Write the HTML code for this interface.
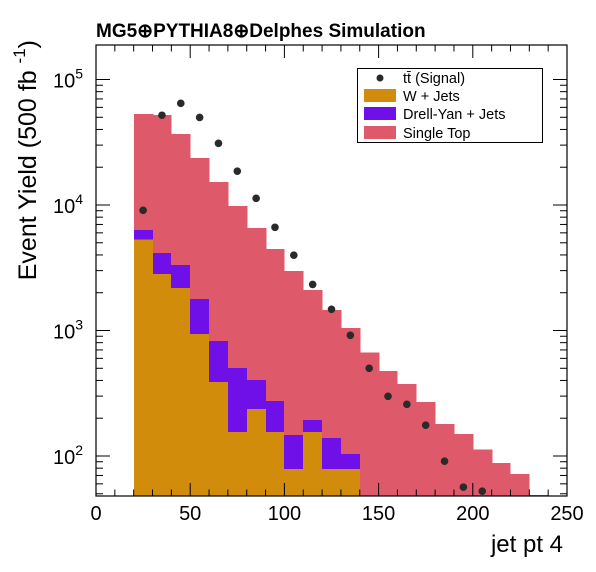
<!DOCTYPE html>
<html><head><meta charset="utf-8"><style>
body{margin:0;background:#fff}
svg{display:block;font-family:"Liberation Sans",sans-serif}
</style></head><body>
<svg id="c" width="596" height="572" viewBox="0 0 596 572"></svg>
<script>
const binLow = [20,30,40,50,60,70,80,90,100,110,120,130,140,150,160,170,180,190,200,210,220,230];
const wjets = [5330,2820,2180,938,389,155,237,155,79,155,79,79,0,0,0,0,0,0,0,0,0,0];
const dyjets = [980,1330,1150,842,436,347,166,119,68,39,60,25,0,0,0,0,0,0,0,0,0,0];
const singleTop = [46800,47850,33470,21920,14375,9300,6157,4186,2833,1906,1316,943,665,475,375,270,180,150,113,88,72,49];
const sigX = [25,35,45,55,65,75,85,95,105,115,125,135,145,155,165,175,185,195,205];
const sigY = [9070,51900,64600,49900,31000,18600,11300,6640,3980,2330,1476,916,500,299,258,176,91,56.5,52.4];
const xTicks = [0,50,100,150,200,250];
const yTickExp = [2,3,4,5];

const NS="http://www.w3.org/2000/svg";
const svg=document.getElementById('c');
const L=96,R=567,T=45,B=496;
const X=v=>L+(v/250)*(R-L);
const Y=v=>456-125.5*(Math.log10(v)-2);
function el(tag,attrs,parent){const e=document.createElementNS(NS,tag);for(const k in attrs)e.setAttribute(k,attrs[k]);(parent||svg).appendChild(e);return e;}
const clip=el('clipPath',{id:'pc'});el('rect',{x:L,y:T,width:R-L,height:B-T},clip);
const g=el('g',{'clip-path':'url(#pc)','shape-rendering':'crispEdges'});


binLow.forEach((b,i)=>{
  const x0=Math.round(X(b)),x1=Math.round(X(b+10));
  const w=wjets[i],d=w+dyjets[i],t=d+singleTop[i];
  const r1=el('rect',{x:x0,y:Y(t),width:x1-x0+0.5,height:Math.max(0,B-Y(t)),fill:'#de5a6a'},g);
  
  
  if(d>0){const r2=el('rect',{x:x0,y:Y(d),width:x1-x0+0.5,height:B-Y(d),fill:'#7010e8'},g);
  
  }
  if(w>0){const r3=el('rect',{x:x0,y:Y(w),width:x1-x0+0.5,height:B-Y(w),fill:'#d08c0a'},g);
  
  }
});
const gp=el('g',{});
sigX.forEach((sx,i)=>{
  const c=el('circle',{cx:X(sx),cy:Y(sigY[i]),r:3.8,fill:'#2a2a2a'},gp);
  
  
});
const fr=el('rect',{x:L,y:T,width:R-L,height:B-T,fill:'none',stroke:'#000','stroke-width':1.2});


for(let v=0;v<=250;v+=10){
  const len=(v%50===0)?13:6.5;
  el('line',{x1:X(v),x2:X(v),y1:B,y2:B-len,stroke:'#000'});
  el('line',{x1:X(v),x2:X(v),y1:T,y2:T+len,stroke:'#000'});
}
xTicks.forEach(v=>{const t=el('text',{x:X(v),y:520,'font-size':20,'text-anchor':'middle'});t.textContent=v;

});
for(let e=1;e<=5;e++){for(let m=1;m<10;m++){const v=m*Math.pow(10,e);const y=Y(v);if(y<T||y>B)continue;
  const len=m===1?14:7;
  el('line',{x1:L,x2:L+len,y1:y,y2:y,stroke:'#000'});
  el('line',{x1:R,x2:R-len,y1:y,y2:y,stroke:'#000'});}}
yTickExp.forEach(e=>{const t=el('text',{x:83,y:Y(Math.pow(10,e))+8,'font-size':20,'text-anchor':'end'});
t.innerHTML='10<tspan dy="-9" font-size="14">'+e+'</tspan>';

});
</script>
<div style="position:absolute;left:0;top:0;width:596px;height:572px;pointer-events:none">
<svg width="596" height="572" style="font-family:'Liberation Sans',sans-serif">
<text x="96" y="37" font-size="19" font-weight="bold">MG5⊕PYTHIA8⊕Delphes Simulation</text>
<text transform="translate(36,40) rotate(-90)" text-anchor="end" font-size="25">Event Yield (500 fb <tspan dy="-11" font-size="17">-1</tspan><tspan dy="11">)</tspan></text>
<text x="563" y="552" text-anchor="end" font-size="24">jet pt 4</text>
<g>
<rect x="357.5" y="68.5" width="185" height="74" fill="#fff" stroke="#000" stroke-width="1"/>
<circle cx="380" cy="78" r="3.5" fill="#2a2a2a"/>
<text x="403" y="83" font-size="14.5">tt̄ (Signal)</text>
<rect x="364" y="89" width="32" height="13" fill="#d08c0a"/>
<text x="403" y="101" font-size="14.5">W + Jets</text>
<rect x="364" y="107" width="32" height="13" fill="#7010e8"/>
<text x="403" y="119" font-size="14.5">Drell-Yan + Jets</text>
<rect x="364" y="126" width="32" height="13" fill="#de5a6a"/>
<text x="403" y="138" font-size="14.5">Single Top</text>
</g>
</svg></div>
</body></html>
